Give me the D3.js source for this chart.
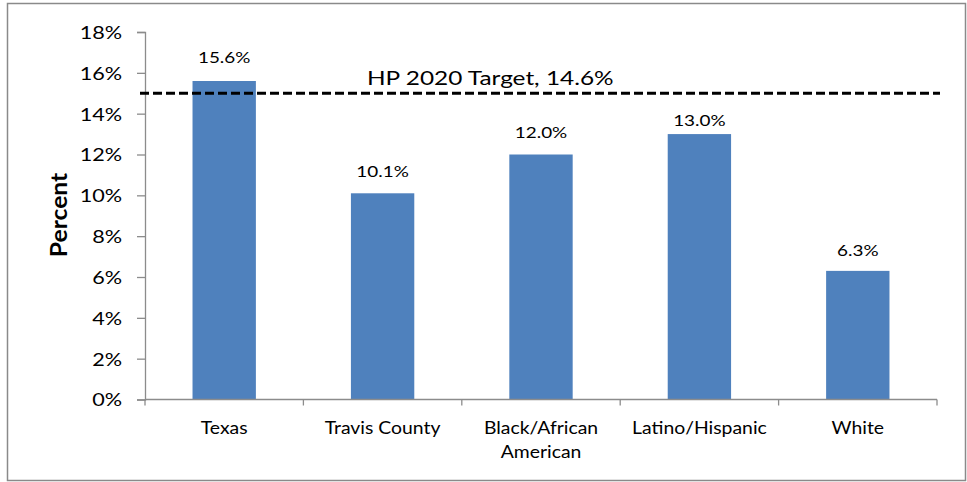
<!DOCTYPE html>
<html><head><meta charset="utf-8">
<script src="https://cdn.jsdelivr.net/npm/d3@7"></script>
<style>body{margin:0;background:#fff}svg{display:block;font-family:Lato,"Open Sans",sans-serif}</style>
</head><body><svg id="c" width="967" height="482"></svg>
<script>
const categories = [["Texas"],["Travis County"],["Black/African","American"],["Latino/Hispanic"],["White"]];
const values = [15.6, 10.1, 12.0, 13.0, 6.3];
const valueLabels = ["15.6%","10.1%","12.0%","13.0%","6.3%"];
const yTicks = [0,2,4,6,8,10,12,14,16,18];
const yTitle = "Percent";
const targetLabel = "HP 2020 Target, 14.6%";
const targetLineValue = 15.0;

const svg = d3.select("#c");
svg.append("rect").attr("x",7.5).attr("y",3.5).attr("width",958).attr("height",477)
  .attr("fill","#fff").attr("stroke","#8a8a8a").attr("stroke-width",1.5);

const x = d3.scaleBand().domain(d3.range(categories.length)).range([145,937]).paddingInner(0.6).paddingOuter(0.3);
const y = d3.scaleLinear().domain([0,18]).range([399.5,32]);

function stext(parent, tx, ty, str, size, sx, anchor, rot){
  return parent.append("text")
    .attr("transform",`translate(${tx},${ty})${rot?` rotate(${rot})`:""} scale(${sx},1)`)
    .attr("text-anchor",anchor).attr("font-size",size).attr("fill","#000").text(str);
}

const yAxis = svg.append("g").attr("transform","translate(145,0)")
  .call(d3.axisLeft(y).tickValues(yTicks).tickFormat(d=>d+"%").tickSize(8));
yAxis.select(".domain").attr("stroke","#8c8c8c").attr("stroke-width",1.3);
yAxis.selectAll(".tick line").attr("stroke","#8c8c8c").attr("stroke-width",1.3);
yAxis.selectAll(".tick text").attr("x",0).attr("dy","0.36em").attr("font-size",18)
  .attr("fill","#000").attr("font-family","Lato,sans-serif")
  .attr("transform","translate(-23,0) scale(1.2,1)");

// bars
svg.selectAll(".bar").data(values).enter().append("rect").attr("class","bar")
  .attr("x",(d,i)=>x(i)).attr("width",x.bandwidth())
  .attr("y",d=>y(d)).attr("height",d=>y(0)-y(d)).attr("fill","#4F81BD");

// x axis
const xa = svg.append("g");
xa.append("line").attr("x1",145).attr("x2",937).attr("y1",y(0)).attr("y2",y(0)).attr("stroke","#8c8c8c").attr("stroke-width",1.3);
d3.range(categories.length+1).forEach(i=>{
  const xx = 145 + i*x.step();
  xa.append("line").attr("x1",xx).attr("x2",xx).attr("y1",y(0)).attr("y2",y(0)+6).attr("stroke","#8c8c8c").attr("stroke-width",1.3);
});
categories.forEach((lines,i)=>{
  const cx = x(i)+x.bandwidth()/2;
  lines.forEach((l,j)=>stext(xa, cx, 434+j*24, l, 17, 1.14, "middle"));
});

// data labels (manual label gaps as in source)
const labelGap = [18,16,17,8,15];
values.forEach((d,i)=>stext(svg, x(i)+x.bandwidth()/2, y(d)-labelGap[i], valueLabels[i], 15.5, 1.22, "middle"));

// target line
svg.append("line").attr("x1",140).attr("x2",940).attr("y1",y(targetLineValue)).attr("y2",y(targetLineValue))
  .attr("stroke","#000").attr("stroke-width",3).attr("stroke-dasharray","9,4");
stext(svg, 367, 85, targetLabel, 19.5, 1.25, "start");

// y title
stext(svg, 66.5, 215, yTitle, 22, 1.12, "middle", -90).attr("font-weight","bold");
</script></body></html>
